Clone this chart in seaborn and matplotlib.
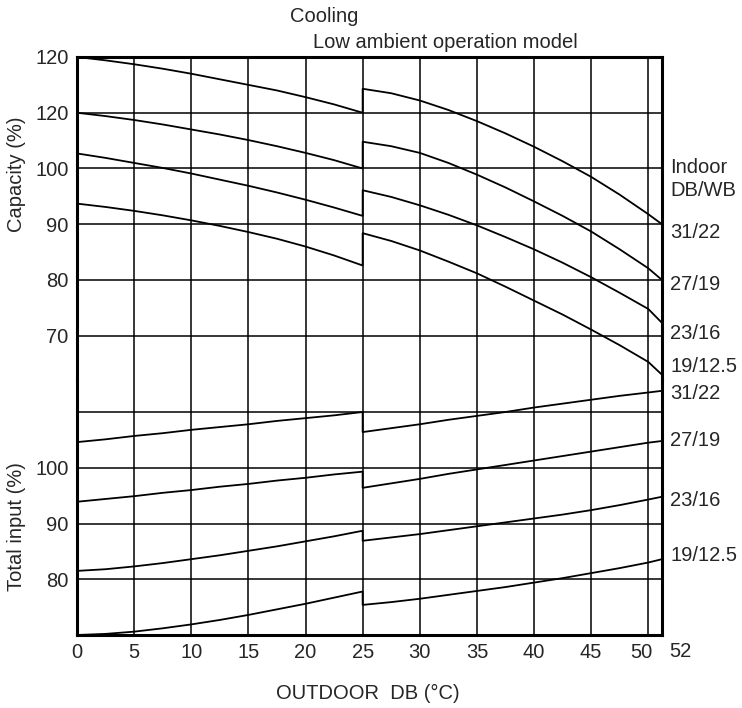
import numpy as np
import pandas as pd
import matplotlib
matplotlib.use("Agg")
import matplotlib.pyplot as plt
import matplotlib.transforms as mtransforms
import seaborn as sns

# outdoor DB (deg C); the point at 25 is doubled because the curves jump there
TEMP = [0, 2.5, 5, 7.5, 10, 12.5, 15, 17.5, 20, 22.5, 25,
        25, 27.5, 30, 32.5, 35, 37.5, 40, 42.5, 45, 47.5, 50, 51.2]
INDOOR = ["31/22", "27/19", "23/16", "19/12.5"]

# capacity (%)
cap_31_22 = [120.0, 119.4, 118.7, 117.9, 117.0, 116.0, 115.0, 114.0, 112.8, 111.5, 110.0,
             114.3, 113.5, 112.2, 110.5, 108.5, 106.3, 103.9, 101.3, 98.5, 95.3, 91.8, 90.0]
cap_27_19 = [110.0, 109.4, 108.7, 107.9, 107.0, 106.1, 105.1, 104.0, 102.8, 101.5, 100.0,
             104.8, 104.0, 102.8, 101.0, 98.9, 96.6, 94.1, 91.5, 88.7, 85.5, 82.1, 80.0]
cap_23_16 = [102.7, 101.9, 101.0, 100.1, 99.1, 98.0, 96.9, 95.7, 94.4, 93.0, 91.5,
             96.1, 94.9, 93.4, 91.7, 89.8, 87.7, 85.5, 83.1, 80.5, 77.7, 74.8, 72.3]
cap_19_125 = [93.7, 93.1, 92.4, 91.6, 90.7, 89.7, 88.6, 87.4, 86.0, 84.4, 82.6,
              88.4, 87.0, 85.3, 83.3, 81.2, 78.8, 76.3, 73.8, 71.1, 68.3, 65.3, 63.0]

# total input (%)
inp_31_22 = [104.6, 105.1, 105.7, 106.2, 106.8, 107.3, 107.8, 108.4, 108.9, 109.4, 110.0,
             106.4, 107.1, 107.8, 108.6, 109.3, 110.0, 110.8, 111.5, 112.2, 112.9, 113.5, 113.8]
inp_27_19 = [93.9, 94.4, 94.9, 95.5, 96.0, 96.6, 97.1, 97.7, 98.2, 98.8, 99.3,
             96.4, 97.2, 98.0, 98.9, 99.7, 100.5, 101.3, 102.1, 102.9, 103.7, 104.5, 104.8]
inp_23_16 = [81.5, 81.8, 82.3, 82.9, 83.6, 84.3, 85.1, 85.9, 86.8, 87.7, 88.7,
             86.9, 87.5, 88.1, 88.8, 89.5, 90.2, 90.9, 91.6, 92.4, 93.3, 94.3, 94.8]
inp_19_125 = [70.0, 70.2, 70.6, 71.2, 71.9, 72.7, 73.6, 74.6, 75.6, 76.7, 77.8,
              75.4, 75.9, 76.5, 77.2, 77.9, 78.6, 79.4, 80.2, 81.1, 82.0, 83.0, 83.6]

cap_ticks = [120, 110, 100, 90, 80, 70]
cap_ticklabels = ["120", "120", "100", "90", "80", "70"]   # as printed on the chart
inp_ticks = [110, 100, 90, 80]
inp_ticklabels = ["", "100", "90", "80"]
x_ticks = [0, 5, 10, 15, 20, 25, 30, 35, 40, 45, 50]

# where the right-hand labels sit (in each panel's own units)
cap_label_y = [88.6, 79.2, 70.4, 64.5]
inp_label_y = [113.4, 104.9, 94.2, 84.3]


def long_frame(series):
    rows = []
    for name, vals in zip(INDOOR, series):
        for t, v in zip(TEMP, vals):
            rows.append({"temp": t, "value": v, "indoor": name})
    return pd.DataFrame(rows)


cap = long_frame([cap_31_22, cap_27_19, cap_23_16, cap_19_125])
inp = long_frame([inp_31_22, inp_27_19, inp_23_16, inp_19_125])

sns.set_style("white")
plt.rcParams["font.family"] = ["Liberation Sans", "DejaVu Sans"]
FS = 14.5

fig = plt.figure(figsize=(7.42, 7.08), dpi=100)
W, H = 742, 708
ax1 = fig.add_axes([77 / W, 1 - 380 / H, 585 / W, 323 / H])
ax2 = fig.add_axes([77 / W, 1 - 635 / H, 585 / W, 255 / H])

for ax, df in [(ax1, cap), (ax2, inp)]:
    sns.lineplot(data=df, x="temp", y="value", units="indoor", estimator=None,
                 sort=False, color="black", lw=1.3, ax=ax, legend=False)
    ax.set_xlim(0, 51.2)
    ax.set_xticks(x_ticks)
    ax.grid(True, color="black", lw=1.1)
    ax.set_axisbelow(True)
    ax.set_xlabel("")
    ax.set_ylabel("")
    ax.tick_params(length=0, labelsize=FS, pad=6)
    for s in ax.spines.values():
        s.set_linewidth(2.2)
        s.set_color("black")

ax1.set_ylim(62.06, 120)
ax1.set_yticks(cap_ticks)
ax1.set_yticklabels(cap_ticklabels)
ax1.set_xticklabels([])
ax1.spines["bottom"].set_visible(False)

ax2.set_ylim(70, 115.74)
ax2.set_yticks(inp_ticks)
ax2.set_yticklabels(inp_ticklabels)
ax2.set_xticklabels([str(t) for t in x_ticks])
ax2.spines["top"].set_visible(False)
# nudge "50" left to leave room for "52"
lab50 = ax2.get_xticklabels()[-1]
lab50.set_transform(lab50.get_transform() +
                    mtransforms.ScaledTranslation(-7 / 100, 0, fig.dpi_scale_trans))
ax2.text(1.0 + 18 / 585, -0.065, "52", transform=ax2.transAxes,
         ha="center", va="center", fontsize=FS)

# right-hand indoor labels
lx = 1.0 + 8 / 585
tr1 = ax1.get_yaxis_transform()
tr2 = ax2.get_yaxis_transform()
ax1.text(lx, 100.1, "Indoor", transform=tr1, ha="left", va="center", fontsize=FS)
ax1.text(lx, 96.1, "DB/WB", transform=tr1, ha="left", va="center", fontsize=FS)
for y, name in zip(cap_label_y, INDOOR):
    ax1.text(lx, y, name, transform=tr1, ha="left", va="center", fontsize=FS)
for y, name in zip(inp_label_y, INDOOR):
    ax2.text(lx, y, name, transform=tr2, ha="left", va="center", fontsize=FS)

fig.text(324 / W, 1 - 16 / H, "Cooling", ha="center", va="center", fontsize=FS)
fig.text(445 / W, 1 - 43 / H, "Low ambient operation model", ha="center", va="center", fontsize=FS)
fig.text(17 / W, 1 - 174 / H, "Capacity (%)", rotation=90, ha="center", va="center", fontsize=FS)
fig.text(17 / W, 1 - 527 / H, "Total input (%)", rotation=90, ha="center", va="center", fontsize=FS)
fig.text(368 / W, 1 - 693 / H, "OUTDOOR  DB (\u00b0C)", ha="center", va="center", fontsize=FS)

fig.savefig("out.png", dpi=100)
